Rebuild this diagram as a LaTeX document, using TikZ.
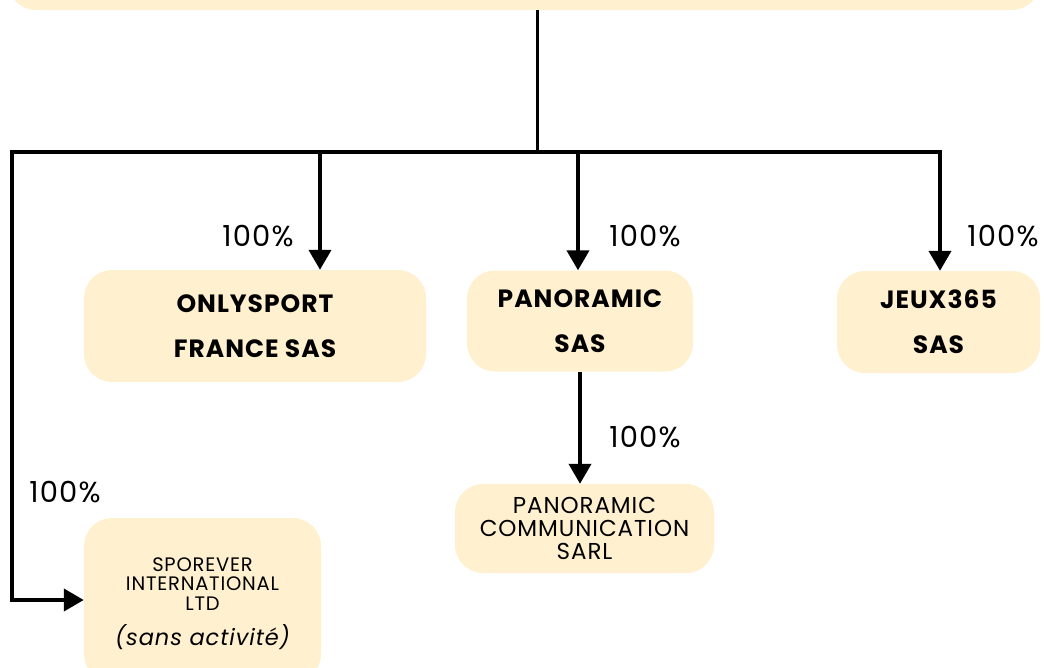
\documentclass[tikz,border=0pt]{standalone}
\usepackage{fontspec}
\setmainfont{Poppins}
\newfontfamily\widefont[LetterSpace=4]{Poppins}
\usetikzlibrary{arrows.meta}
\definecolor{boxfill}{RGB}{255,240,207}
\tikzset{
  orgbox/.style={fill=boxfill, draw=none, rounded corners=28pt, align=center, inner sep=0pt},
  boldtxt/.style={font=\widefont\fontsize{25}{45}\selectfont\bfseries},
  smalltxt/.style={font=\widefont\fontsize{23}{23}\selectfont},
  tinytxt/.style={font=\widefont\fontsize{19.5}{19.5}\selectfont},
  pct/.style={font=\widefont\fontsize{29}{30}\selectfont, inner sep=0pt},
  link/.style={line width=4pt, -{Triangle[length=20pt,width=22pt]}},
  bar/.style={line width=4pt},
}
\begin{document}
\begin{tikzpicture}[x=1pt,y=-1pt]
\useasboundingbox (0,0) rectangle (1044,667);
\node[orgbox, minimum width=1032pt, minimum height=70pt] (top) at (524,-25) {};
\node[orgbox, boldtxt, minimum width=342pt, minimum height=112pt] (only) at (255,326) {ONLYSPORT\\FRANCE SAS};
\node[orgbox, boldtxt, minimum width=226pt, minimum height=101pt] (pano) at (580,321) {PANORAMIC\\SAS};
\node[orgbox, boldtxt, minimum width=203pt, minimum height=102pt] (jeux) at (938.5,322) {JEUX365\\SAS};
\node[orgbox, smalltxt, minimum width=259pt, minimum height=89pt] (pcomm) at (584.5,528.5) {PANORAMIC\\COMMUNICATION\\SARL};
\node[orgbox, minimum width=237pt, minimum height=164pt] (spor) at (202.5,600) {};
\node[tinytxt, align=center, inner sep=0pt] (sportxt) at (202.5,584) {SPOREVER\\INTERNATIONAL\\LTD};
\node[font=\widefont\fontsize{22.5}{24}\selectfont\itshape, inner sep=0pt] (sporsub) at (202.5,637) {(sans activité)};
\coordinate (hub) at (537,152);
\coordinate (bl) at (12,152);
\coordinate (br) at (940,152);
\coordinate (d1) at (320,152);
\coordinate (d2) at (578,152);
\draw[line width=3pt] (top.south -| hub) -- (hub);
\draw[bar] ([xshift=-2pt]bl) -- ([xshift=2pt]br);
\draw[link] (bl) |- (spor.west);
\draw[link] (d1) -- (d1 |- only.north);
\draw[link] (d2) -- (d2 |- pano.north);
\draw[link] (br) -- (br |- jeux.north);
\draw[link] (pano.south) -- (pcomm.north -| pano.south);
\node[pct] (p1) at (258,236) {100\%};
\node[pct] (p2) at (645,236) {100\%};
\node[pct] (p3) at (1003,236) {100\%};
\node[pct] (p4) at (645,437) {100\%};
\node[pct] (p5) at (65,492) {100\%};
\end{tikzpicture}
\end{document}
